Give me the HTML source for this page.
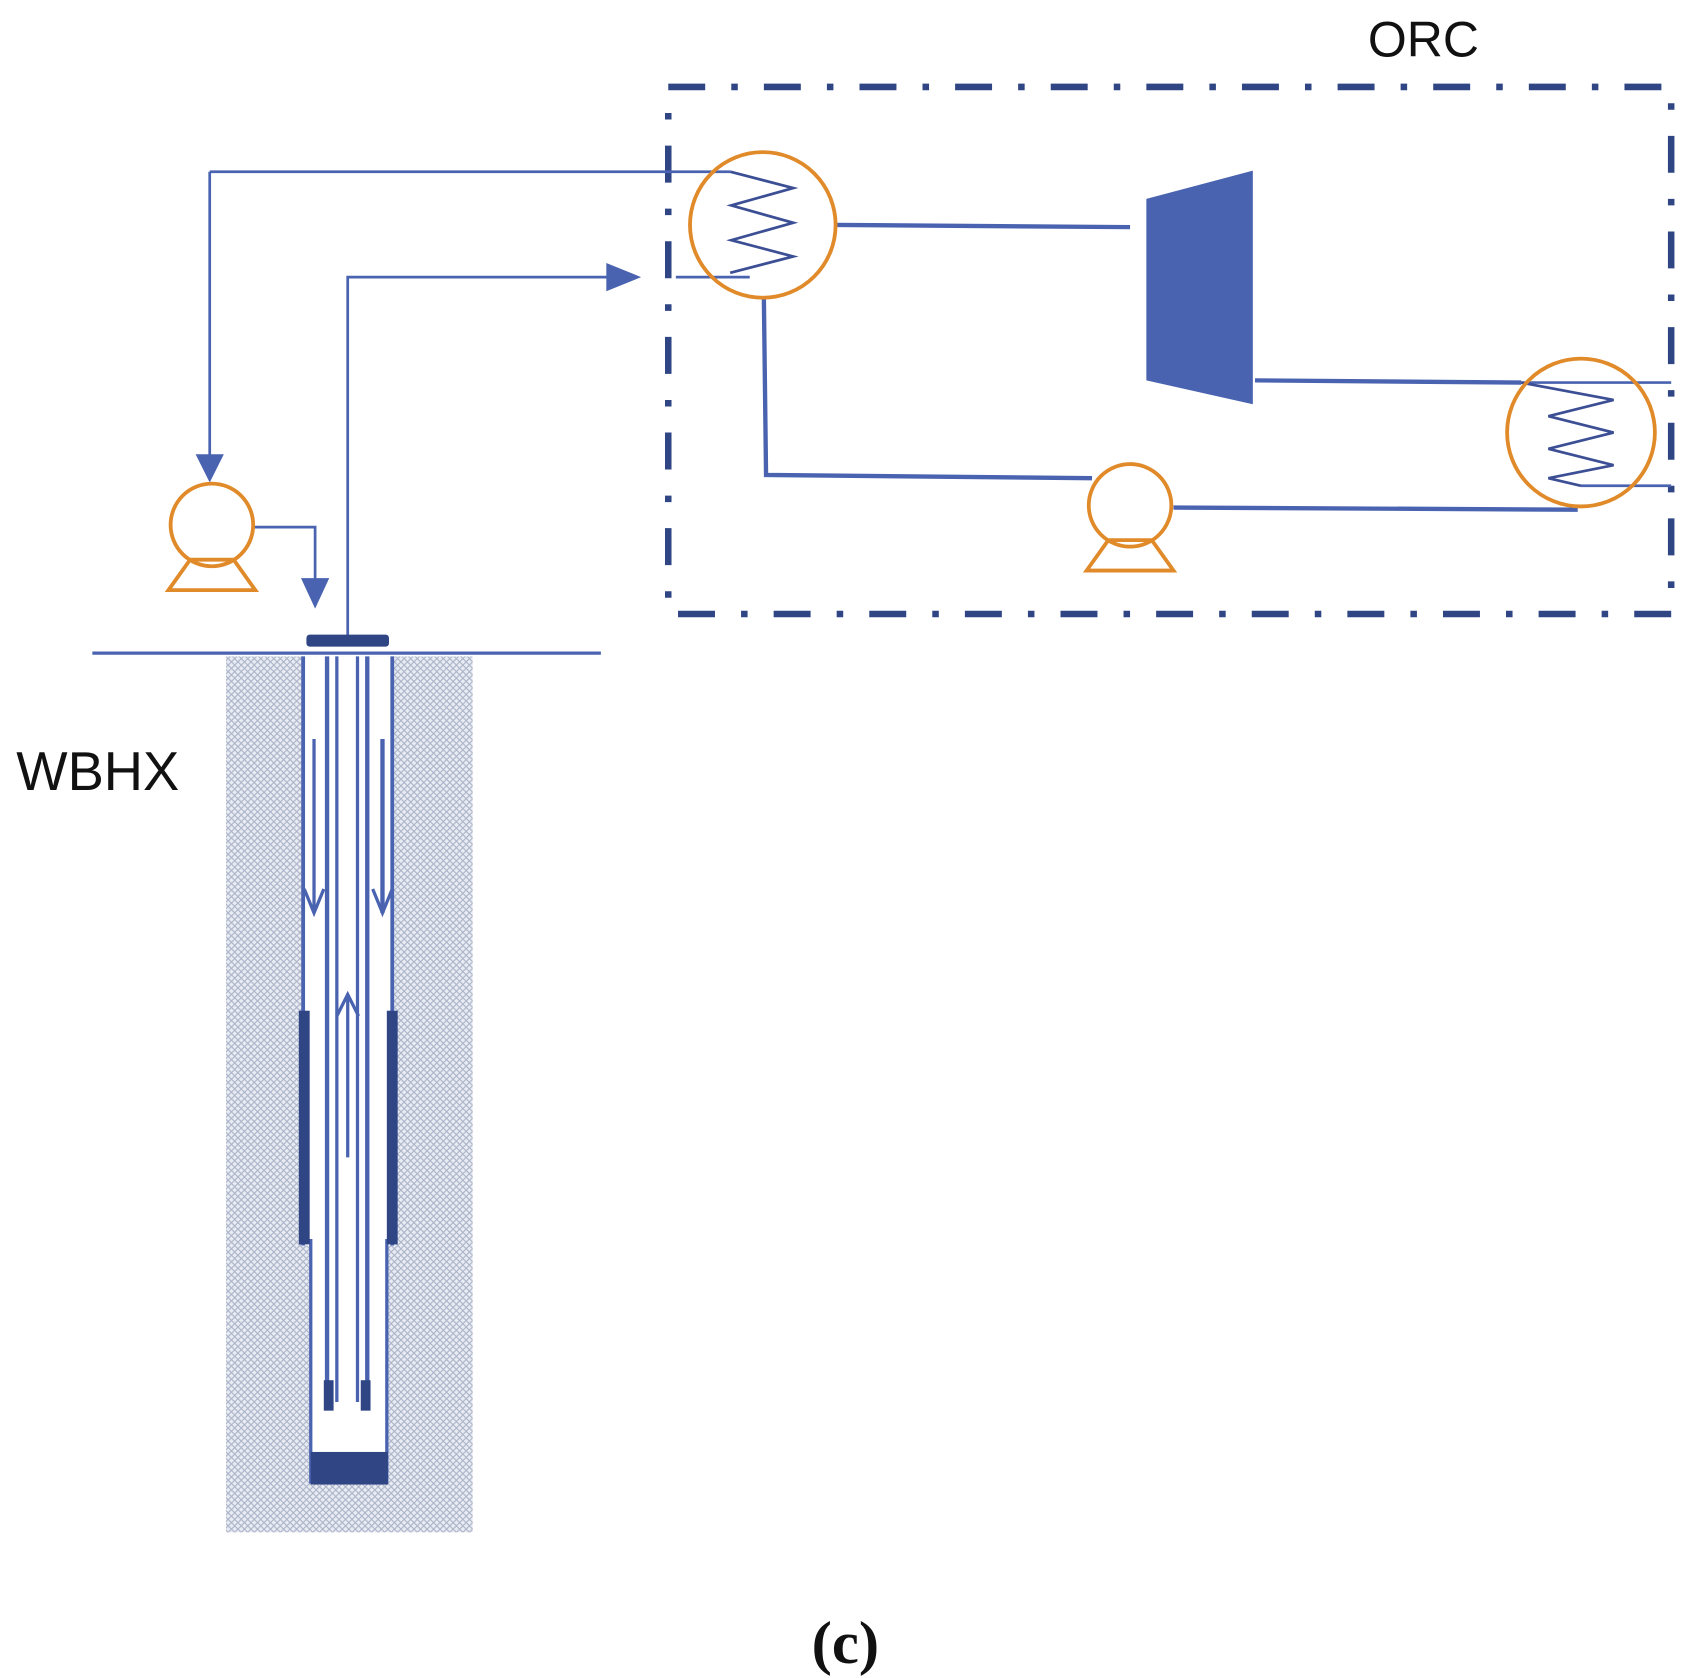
<!DOCTYPE html>
<html><head><style>html,body{margin:0;padding:0;background:#fff;}svg{display:block;}</style></head>
<body>
<svg width="1694" height="1678" viewBox="0 0 1559 1544" preserveAspectRatio="none" xmlns="http://www.w3.org/2000/svg">
<defs>
<pattern id="h" width="6" height="6" patternUnits="userSpaceOnUse">
<rect width="6" height="6" fill="#e9ecf3"/>
<path d="M0,0L6,6M6,0L0,6" stroke="#aab3c8" stroke-width="1"/>
</pattern>
</defs>
<text x="1310" y="52" font-family="Liberation Sans, sans-serif" font-size="46" text-anchor="middle" fill="#111">ORC</text>
<rect x="615" y="80" width="923" height="485" fill="none" stroke="#2f4584" stroke-width="6" stroke-dasharray="34 24 6 24"/>
<g stroke="#4a63b0" fill="none">
<polyline points="193,158 672,158" stroke-width="2.5"/>
<polyline points="193,158 193,425" stroke-width="2.5"/>
<polyline points="320,588 320,255 565,255" stroke-width="2.5"/>
<polyline points="622,255 690,255" stroke-width="2.5"/>
<polyline points="234,485 290,485 290,540" stroke-width="2.5"/>
<polyline points="672,158 730,173 673,189 730,205 673,221 730,236 672,251" stroke="#3c4f95" stroke-width="2.5"/>
<line x1="770" y1="207" x2="1040" y2="209" stroke-width="4"/>
<line x1="1155" y1="350" x2="1400" y2="352" stroke-width="4"/>
<polyline points="703,275 705,437 1005,440" stroke-width="4"/>
<line x1="1080" y1="467" x2="1452" y2="469" stroke-width="4"/>
<polyline points="1400,352 1538,352" stroke-width="2.5"/>
<polyline points="1455,447 1538,447" stroke-width="2.5"/>
<polyline points="1400,352 1485,368 1425,383 1485,398 1425,413 1485,428 1425,440 1455,447" stroke="#3c4f95" stroke-width="2.5"/>
<line x1="85" y1="601" x2="553" y2="601" stroke-width="3"/>
</g>
<g fill="#4a63b0">
<polygon points="180,418 206,418 193,444"/>
<polygon points="277,532 303,532 290,560"/>
<polygon points="558,242 558,268 590,255"/>
<polygon points="1055,183 1153,157 1153,372 1055,350"/>
</g>
<g stroke="#e08a2a" stroke-width="3.5" fill="none">
<circle cx="702" cy="207" r="67"/>
<circle cx="1455" cy="398" r="68"/>
<circle cx="195" cy="483" r="38"/>
<polygon points="175,515 215,515 235,543 155,543"/>
<circle cx="1040" cy="465" r="38"/>
<polygon points="1020,497 1060,497 1080,525 1000,525"/>
</g>
<rect x="208" y="604" width="227" height="806" fill="url(#h)"/>
<rect x="278" y="604" width="84" height="542" fill="#fff"/>
<rect x="285" y="1145" width="72" height="220" fill="#fff"/>
<g fill="none" stroke="#4a63b0">
<line x1="279" y1="604" x2="279" y2="1146" stroke-width="3.5"/>
<line x1="361" y1="604" x2="361" y2="1146" stroke-width="3.5"/>
<line x1="286" y1="1140" x2="286" y2="1365" stroke-width="3"/>
<line x1="356" y1="1140" x2="356" y2="1365" stroke-width="3"/>
<line x1="301" y1="604" x2="301" y2="1290" stroke-width="4"/>
<line x1="310" y1="604" x2="310" y2="1290" stroke-width="3"/>
<line x1="329" y1="604" x2="329" y2="1290" stroke-width="3"/>
<line x1="338" y1="604" x2="338" y2="1290" stroke-width="4"/>
<line x1="289" y1="680" x2="289" y2="840" stroke-width="3"/>
<line x1="352" y1="680" x2="352" y2="840" stroke-width="4"/>
<polyline points="280,818 289,840 298,818" stroke-width="3"/>
<polyline points="343,818 352,840 361,818" stroke-width="3"/>
<line x1="320" y1="915" x2="320" y2="1065" stroke-width="3"/>
<polyline points="310,935 320,915 330,935" stroke-width="3"/>
</g>
<g fill="#2f4584">
<rect x="275" y="930" width="10" height="215"/>
<rect x="356" y="930" width="10" height="215"/>
<rect x="282" y="584" width="76" height="11" rx="3"/>
<rect x="286" y="1336" width="71" height="30"/>
<rect x="298" y="1270" width="9" height="28"/>
<rect x="332" y="1270" width="9" height="28"/>
</g>
<text x="15" y="727" font-family="Liberation Sans, sans-serif" font-size="50" fill="#111">WBHX</text>
<text x="778" y="1530" font-family="Liberation Serif, serif" font-size="56" font-weight="bold" text-anchor="middle" fill="#111">(c)</text>
</svg>
</body></html>
